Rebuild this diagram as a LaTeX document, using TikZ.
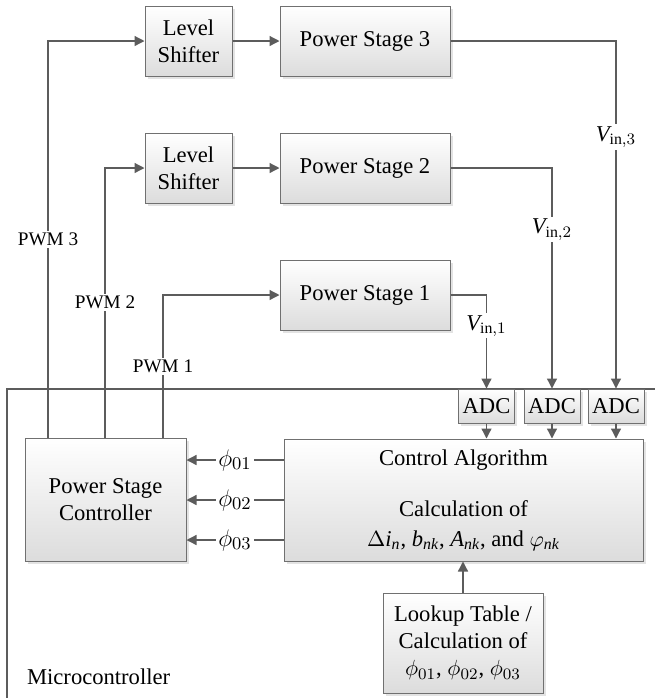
\documentclass[tikz,border=0pt]{standalone}
\usepackage{fontspec}
\setmainfont{Liberation Serif}
\usetikzlibrary{positioning, arrows.meta, shadows}
\definecolor{linegray}{HTML}{5C5C5C}
\definecolor{boxgray}{HTML}{707070}
\definecolor{fillgray}{HTML}{DCDCDC}
\newcommand{\vin}[1]{$\mathit{V}_{\mathrm{in},#1}$}

\begin{document}
\begin{tikzpicture}[
      x=0.5pt, y=-0.5pt,
      on grid,
      >={Triangle[length=5pt, width=5pt]},
      font=\fontsize{11.3}{13.5}\selectfont,
      block/.style={draw=boxgray, line width=0.5pt, top color=white,
        bottom color=fillgray, align=center, inner sep=1pt,
        drop shadow={shadow xshift=1.3pt, shadow yshift=-1.3pt, fill=black!22}},
      shifter/.style={block, minimum width=43.5pt, minimum height=35pt},
      stage/.style={block, minimum width=85pt, minimum height=35pt},
      adc/.style={block, minimum width=28pt, minimum height=17pt},
      sig/.style={draw=linegray, line width=0.65pt},
      tag/.style={fill=white, inner sep=1pt},
      pwmtag/.style={tag, font=\fontsize{9.6}{11}\selectfont},
      phitag/.style={tag, font=\fontsize{12.5}{14}\selectfont},
    ]

    \useasboundingbox (0,0) rectangle (655,698);

    % microcontroller frame
    \coordinate (mcbl) at (7,698);
    \coordinate (mctl) at (7,389);
    \coordinate (mctr) at (655,389);
    \draw[sig] (mcbl) -- (mctl) -- (mctr);
    \node[anchor=west] (mcu) at (20,677) {Microcontroller};

    % power stages
    \node[shifter]                        (ls3) at (188.5,41)  {Level\\Shifter};
    \node[stage, right=88.25pt of ls3]    (ps3)                {Power Stage 3};
    \node[shifter]                        (ls2) at (188.5,168) {Level\\Shifter};
    \node[stage, right=88.25pt of ls2]    (ps2)                {Power Stage 2};
    \node[stage]                          (ps1) at (365,295)   {Power Stage 1};

    % inside the microcontroller
    \node[adc]                      (adc1) at (486.5,406) {ADC};
    \node[adc, right=32.75pt of adc1] (adc2)              {ADC};
    \node[adc, right=32pt of adc2]    (adc3)              {ADC};

    \node[block, minimum width=179.5pt, minimum height=61pt] (ca) at (463.5,500)
      {\raisebox{-2pt}{Control Algorithm}\\[14pt]Calculation of\\[1.5pt]
       $\Delta\mathit{i}_{\mathit{n}}$, $\mathit{b}_{\mathit{nk}}$,
       $\mathit{A}_{\mathit{nk}}$, and $\varphi_{\mathit{nk}}$};
    \node[block, minimum width=80.5pt, minimum height=61.5pt] (psc) at (105.5,499.5)
      {Power Stage\\Controller};
    \node[block, minimum width=80pt, minimum height=50pt] (lt) at (463,643)
      {Lookup Table /\\Calculation of\\
       $\phi_{01}$, $\phi_{02}$, $\phi_{03}$};

    % PWM signals
    \coordinate (pwm3x) at (48,0);
    \coordinate (pwm2x) at (105,0);
    \coordinate (pwm1x) at (163,0);
    \draw[sig, ->] (psc.north -| pwm3x) |- node[pwmtag, pos=0.25] (pwm3) {PWM 3} (ls3.west);
    \draw[sig, ->] (psc.north -| pwm2x) |- node[pwmtag, pos=0.25] (pwm2) {PWM 2} (ls2.west);
    \draw[sig, ->] (psc.north -| pwm1x) |- node[pwmtag, pos=0.25] (pwm1) {PWM 1} (ps1.west);
    \draw[sig, ->] (ls3) -- (ps3);
    \draw[sig, ->] (ls2) -- (ps2);

    % measured voltages
    \draw[sig, ->] (ps3.east) -| node[tag, pos=0.638] (v3) {\vin{3}} (adc3.north);
    \draw[sig, ->] (ps2.east) -| node[tag, pos=0.64]  (v2) {\vin{2}} (adc2.north);
    \draw[sig, ->] (ps1.east) -| node[tag, pos=0.665] (v1) {\vin{1}} (adc1.north);

    \foreach \i in {1,2,3}
      \draw[sig, ->] (adc\i) -- (adc\i |- ca.north);

    % phase offsets
    \foreach \k/\dy in {1/20pt, 2/0pt, 3/-20pt}
      \draw[sig, ->] ([yshift=\dy]ca.west) --
        node[phitag] (phi\k) {$\phi_{0\k}$} ([yshift=\dy]ca.west -| psc.east);

    \draw[sig, ->] (lt.north) -- (lt.north |- ca.south);

  \end{tikzpicture}
\end{document}
